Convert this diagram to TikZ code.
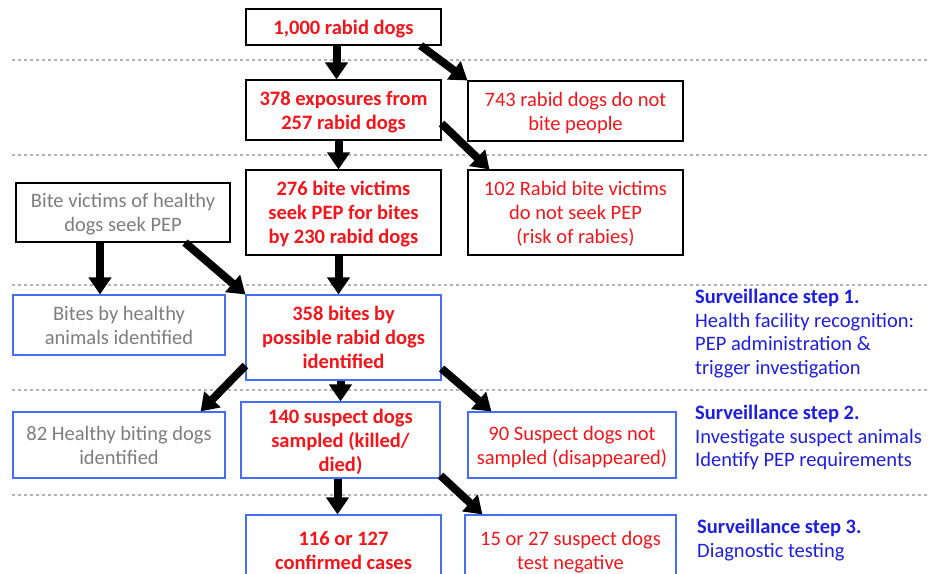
\documentclass[tikz,border=0pt]{standalone}
\usepackage{fontspec}
\setmainfont{Carlito}
\usetikzlibrary{arrows.meta,positioning,calc}
\definecolor{rabred}{RGB}{245,20,25}
\definecolor{hgray}{RGB}{125,125,125}
\definecolor{survblue}{RGB}{30,30,225}
\definecolor{boxblue}{RGB}{70,110,245}
\tikzset{
  box/.style   = { draw, line width=1.1pt, align=center, inner sep=2pt, text depth=-2pt,
    font=\fontsize{20.5}{24}\selectfont },
  redb/.style  = { box, text=rabred, font=\fontsize{20.5}{24}\selectfont\bfseries },
  redn/.style  = { box, text=rabred },
  grayn/.style = { box, text=hgray },
  bluebox/.style = { draw=boxblue },
  arr/.style   = { line width=8pt, -{Triangle[width=22pt,length=17pt]} },
  sep/.style   = { draw=gray!60, dashed, line width=1.2pt },
  surv/.style  = { align=left, text=survblue, anchor=north west, inner sep=0pt,
    font=\fontsize{20.5}{23.5}\selectfont }
}
\begin{document}
\begin{tikzpicture}[x=1pt,y=-1pt]
    \clip (0,0) rectangle (928,573);
    % separators
    \foreach \yy in {60,155,285,390,495}
      \draw[sep] (12,\yy) -- (928,\yy);
    % boxes
    \node[redb, minimum width=195pt, minimum height=36pt] (dogs) at (343.5,27) {1,000 rabid dogs};
    \node[redb, minimum width=195pt, minimum height=60pt] (expo) at (343.5,110) {378 exposures from\\257 rabid dogs};
    \node[redn, minimum width=215pt, minimum height=60pt] (nobite) at (575.5,111) {743 rabid dogs do not\\bite people};
    \node[redb, minimum width=195pt, minimum height=85pt] (seek) at (343.5,212.5) {276 bite victims\\seek PEP for bites\\by 230 rabid dogs};
    \node[redn, minimum width=215pt, minimum height=85pt] (noseek) at (575.5,212.5) {102 Rabid bite victims\\do not seek PEP\\(risk of rabies)};
    \node[grayn, minimum width=214pt, minimum height=59pt] (hseek) at (123,212.5) {Bite victims of healthy\\dogs seek PEP};
    \node[grayn, bluebox, minimum width=212pt, minimum height=60pt] (hbites) at (119,325) {Bites by healthy\\animals identified};
    \node[redb, bluebox, minimum width=195pt, minimum height=85pt] (possible) at (343.5,337.5) {358 bites by\\possible rabid dogs\\identified};
    \node[grayn, bluebox, minimum width=212pt, minimum height=66pt] (hdogs) at (119,445) {82 Healthy biting dogs\\identified};
    \node[redb, bluebox, minimum width=199pt, minimum height=76pt] (sampled) at (340.5,440) {140 suspect dogs\\sampled (killed/\\died)};
    \node[redn, bluebox, minimum width=208pt, minimum height=66pt] (nosample) at (572,445) {90 Suspect dogs not\\sampled (disappeared)};
    \node[redb, bluebox, minimum width=195pt, minimum height=70pt] (cases) at (343.5,550) {116 or 127\\confirmed cases};
    \node[redn, bluebox, minimum width=211pt, minimum height=70pt] (neg) at (570.5,550) {15 or 27 suspect dogs\\test negative};
    % surveillance steps
    \node[surv] (step1) at (695,289) {\textbf{Surveillance step 1.}\\Health facility recognition:\\PEP administration \&\\trigger investigation};
    \node[surv] (step2) at (695,405) {\textbf{Surveillance step 2.}\\Investigate suspect animals\\Identify PEP requirements};
    \node[surv] (step3) at (697,519) {\textbf{Surveillance step 3.}\\Diagnostic testing};
    % arrows
    \draw[arr] ([xshift=-7pt]dogs.south) -- ([xshift=-7pt]dogs.south |- expo.north);
    \draw[arr] ([xshift=-21pt]dogs.south east) -- (nobite.north west);
    \draw[arr] ([xshift=-5pt]expo.south) -- ([xshift=-5pt]expo.south |- seek.north);
    \draw[arr] ([yshift=17pt]expo.south east) -- ([xshift=22pt]noseek.north west);
    \draw[arr] ([xshift=-23pt]hseek.south) -- ([xshift=-23pt]hseek.south |- hbites.north);
    \draw[arr] ([xshift=62pt]hseek.south) -- (possible.north west);
    \draw[arr] ([xshift=-5pt]seek.south) -- ([xshift=-5pt]seek.south |- possible.north);
    \draw[arr] ([yshift=15pt]possible.south west) -- ([xshift=-25pt]hdogs.north east);
    \draw[arr] ([xshift=-3pt]possible.south) -- ([xshift=-3pt]possible.south |- sampled.north);
    \draw[arr] ([yshift=12pt]possible.south east) -- ([xshift=24pt]nosample.north west);
    \draw[arr] ([xshift=-3pt]sampled.south) -- ([xshift=-3pt]sampled.south |- cases.north);
    \draw[arr] ([yshift=3pt]sampled.south east) -- ([xshift=18pt]neg.north west);
\end{tikzpicture}
\end{document}
